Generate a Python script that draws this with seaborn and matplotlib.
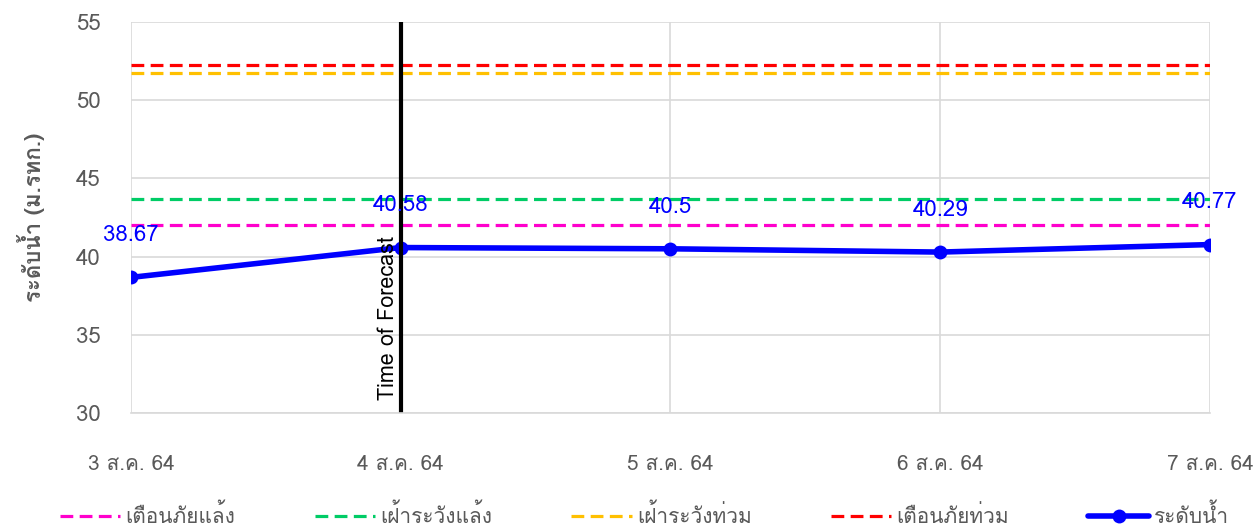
import matplotlib
matplotlib.use("Agg")
import matplotlib.pyplot as plt
from matplotlib import font_manager
from matplotlib.ft2font import FT2Font
import seaborn as sns
import pandas as pd

# ข้อมูล
dates = ["3 ส.ค. 64", "4 ส.ค. 64", "5 ส.ค. 64", "6 ส.ค. 64", "7 ส.ค. 64"]
level = [38.67, 40.58, 40.5, 40.29, 40.77]
drought_alarm = 42.05     # เตือนภัยแล้ง
drought_watch = 43.7      # เฝ้าระวังแล้ง
flood_watch = 51.75       # เฝ้าระวังท่วม
flood_alarm = 52.25       # เตือนภัยท่วม
forecast_idx = 1

# find a font that has Thai glyphs
thai_fonts = []
for f in font_manager.fontManager.ttflist:
    try:
        ft = FT2Font(f.fname)
        if ft.get_char_index(ord("ร")) and f.name not in thai_fonts:
            thai_fonts.append(f.name)
    except Exception:
        pass

sns.set_style("white")
plt.rcParams["font.family"] = thai_fonts[:1] + ["DejaVu Sans"]

df = pd.DataFrame({"x": range(len(dates)), "level": level})

fig = plt.figure(figsize=(12.59, 5.28), dpi=100)
ax = fig.add_axes([0.104, 0.218, 0.857, 0.740])

dash = (4, 2)
ax.axhline(drought_alarm, color="#FF00CC", lw=2.3, ls=(0, dash), label="เตือนภัยแล้ง")
ax.axhline(drought_watch, color="#00CC66", lw=2.3, ls=(0, dash), label="เฝ้าระวังแล้ง")
ax.axhline(flood_watch, color="#FFC000", lw=2.3, ls=(0, dash), label="เฝ้าระวังท่วม")
ax.axhline(flood_alarm, color="#FF0000", lw=2.3, ls=(0, dash), label="เตือนภัยท่วม")

sns.lineplot(data=df, x="x", y="level", ax=ax, color="#0000FF", lw=4,
             marker="o", markersize=10, markeredgewidth=0, label="ระดับน้ำ")

for xi, v in zip(df["x"], df["level"]):
    ax.annotate(f"{v:g}", (xi, v), xytext=(0, 30), textcoords="offset points",
                ha="center", va="center", color="#0000FF", fontsize=16)

ax.axvline(forecast_idx, color="black", lw=3)
ax.text(forecast_idx - 0.045, 30.8, "Time of Forecast", rotation=90, ha="center",
        va="bottom", fontsize=15.5, color="black")

ax.set_xlim(0, len(dates) - 1)
ax.set_ylim(30, 55)
ax.set_xticks(range(len(dates)))
ax.set_xticklabels(dates)
ax.set_yticks(range(30, 56, 5))
ax.tick_params(axis="both", colors="#595959", labelsize=16, length=0)
ax.tick_params(axis="x", labelsize=15, pad=30)
ax.tick_params(axis="y", pad=22)
ax.grid(True, color="#D9D9D9", lw=1.2)
for s in ["top", "right", "left"]:
    ax.spines[s].set_visible(False)
ax.spines["bottom"].set_color("#D9D9D9")
ax.spines["bottom"].set_linewidth(1.2)

ax.set_xlabel("")
ax.set_ylabel("ระดับน้ำ (ม.รทก.)", fontsize=16, fontweight="bold", color="#595959", labelpad=22)

leg = ax.legend(loc="center", bbox_to_anchor=(0.476, -0.262), ncol=5, frameon=False,
                fontsize=15, handlelength=2.9, columnspacing=3.8, handletextpad=0.25)
for t in leg.get_texts():
    t.set_color("#595959")

fig.savefig("out.png", dpi=100)
